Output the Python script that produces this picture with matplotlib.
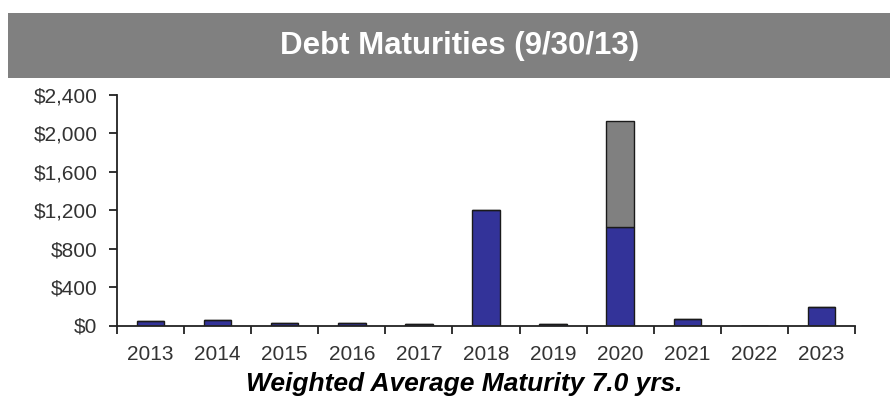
import numpy as np
import matplotlib.pyplot as plt
from matplotlib.patches import Rectangle
from matplotlib.ticker import FuncFormatter

# ----------------------------
# Data (values in $ millions)
# ----------------------------
years = ["2013", "2014", "2015", "2016", "2017", "2018",
         "2019", "2020", "2021", "2022", "2023"]
debt = [45, 55, 25, 25, 12, 1200, 12, 1025, 65, 0, 190]
debt_other = [0, 0, 0, 0, 0, 0, 0, 1100, 0, 0, 0]
y_ticks = [0, 400, 800, 1200, 1600, 2000, 2400]

plt.rcParams["font.family"] = ["Liberation Sans", "DejaVu Sans"]

fig = plt.figure(figsize=(8.9, 4), dpi=100)

# grey header band
fig.patches.append(Rectangle((8 / 890, 1 - 78 / 400), 1, 65 / 400,
                             transform=fig.transFigure, facecolor="#808080",
                             edgecolor="none", zorder=0))
fig.text(460 / 890, 1 - 46 / 400, "Debt Maturities (9/30/13)", color="white",
         fontsize=22.5, fontweight="bold", ha="center", va="center")

ax = fig.add_axes([117 / 890, 1 - 325.5 / 400, 738 / 890, 230.5 / 400])
x = np.arange(len(years))
ax.bar(x, debt, width=0.41, color="#333399", edgecolor="#1a1a1a",
       linewidth=1.0, zorder=2)
ax.bar(x, debt_other, bottom=debt, width=0.41, color="#808080",
       edgecolor="#1a1a1a", linewidth=1.0, zorder=2)

ax.set_xlim(-0.5, len(years) - 0.5)
ax.set_ylim(0, 2400)
ax.set_yticks(y_ticks)
ax.yaxis.set_major_formatter(FuncFormatter(lambda v, p: f"${v:,.0f}"))

# Excel-style ticks at category boundaries, labels in between
ax.set_xticks(np.arange(-0.5, len(years), 1.0))
ax.set_xticklabels([])
ax.set_xticks(x, minor=True)
ax.set_xticklabels(years, minor=True)
ax.tick_params(axis="x", which="major", direction="out", length=6,
               width=1.3, color="#222222")
ax.tick_params(axis="x", which="minor", length=0, pad=14,
               labelsize=15, labelcolor="#333333")
ax.tick_params(axis="y", direction="out", length=6, width=1.3,
               color="#222222", labelsize=15, labelcolor="#333333", pad=8)

for side in ["top", "right"]:
    ax.spines[side].set_visible(False)
for side in ["left", "bottom"]:
    ax.spines[side].set_color("#222222")
    ax.spines[side].set_linewidth(1.3)

fig.text(464 / 890, 1 - 384 / 400, "Weighted Average Maturity 7.0 yrs.",
         fontsize=19, fontweight="bold", fontstyle="italic",
         ha="center", va="center", color="black")

fig.savefig("out.png", dpi=100)
